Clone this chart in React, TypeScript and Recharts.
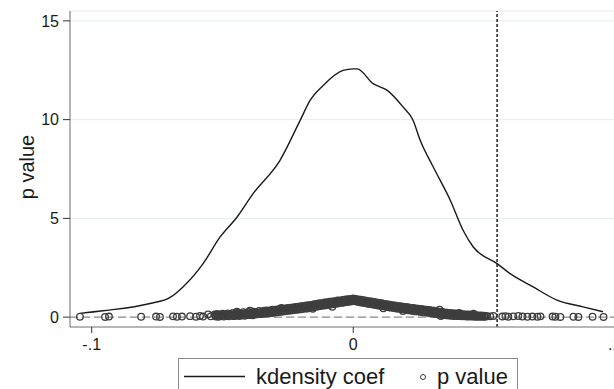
import React from 'react';
import {
  ComposedChart,
  Line,
  Scatter,
  XAxis,
  YAxis,
  CartesianGrid,
  ReferenceLine,
  Legend,
} from 'recharts';

// Kernel density of the coefficients (x = coef, y = density)
const densityCoef = [
  -0.1045, -0.0957, -0.0777, -0.07, -0.0651, -0.0574, -0.0509, -0.0444, -0.0383, -0.028,
  -0.0203, -0.0165, -0.0115, -0.0039, 0.0, 0.0015, 0.0076, 0.013, 0.0191, 0.0229,
  0.0256, 0.0306, 0.0371, 0.042, 0.0459, 0.055, 0.06, 0.0688, 0.0779, 0.0879, 0.0955,
];
const densityValue = [
  0.19, 0.32, 0.69, 1.0, 1.53, 2.71, 4.06, 5.07, 6.25, 7.94,
  9.96, 10.97, 11.73, 12.49, 12.57, 12.57, 11.82, 11.48, 10.63, 9.96,
  8.95, 7.6, 5.92, 4.4, 3.55, 2.71, 2.2, 1.53, 0.86, 0.52, 0.27,
];

// p values of individual estimates: [coef, p]
const pvalueLeftTail: [number, number][] = [
  [-0.1045, 0.02], [-0.0949, 0.01], [-0.0934, 0.03], [-0.0811, 0.02], [-0.0754, 0.03],
  [-0.0739, 0.01], [-0.0689, 0.04], [-0.0674, 0.02], [-0.0655, 0.03], [-0.0624, 0.05],
  [-0.0601, 0.02], [-0.0586, 0.06], [-0.0574, 0.03], [-0.0555, 0.14], [-0.0545, 0.04],
];
const pvalueRightTail: [number, number][] = [
  [0.0524, 0.04], [0.0536, 0.06], [0.057, 0.03], [0.0582, 0.05], [0.0593, 0.02],
  [0.0612, 0.04], [0.0631, 0.06], [0.0647, 0.03], [0.0666, 0.02], [0.0685, 0.03],
  [0.0704, 0.02], [0.0716, 0.04], [0.0762, 0.03], [0.0773, 0.02], [0.0792, 0.01],
  [0.0842, 0.02], [0.0861, 0.01], [0.0915, 0.02], [0.0957, 0.01],
];
const pvalueBand: [number, number][] = [
  [-0.053, 0.13], [-0.0525, 0.03], [-0.052, 0.16], [-0.0515, 0.02], [-0.051, 0.12], [-0.0505, 0.05],
  [-0.05, 0.17], [-0.0495, 0.03], [-0.049, 0.14], [-0.0485, 0.06], [-0.048, 0.19], [-0.0475, 0.04],
  [-0.047, 0.15], [-0.0465, 0.07], [-0.046, 0.21], [-0.0455, 0.05], [-0.045, 0.17], [-0.0445, 0.08],
  [-0.044, 0.22], [-0.0435, 0.06], [-0.043, 0.18], [-0.0425, 0.09], [-0.042, 0.25], [-0.0415, 0.07],
  [-0.041, 0.21], [-0.0405, 0.1], [-0.04, 0.26], [-0.0395, 0.11], [-0.039, 0.23], [-0.0385, 0.09],
  [-0.038, 0.28], [-0.0375, 0.13], [-0.037, 0.25], [-0.0365, 0.14], [-0.036, 0.31], [-0.0355, 0.15],
  [-0.035, 0.28], [-0.0345, 0.17], [-0.034, 0.32], [-0.0335, 0.18], [-0.033, 0.34], [-0.0325, 0.19],
  [-0.032, 0.33], [-0.0315, 0.21], [-0.031, 0.37], [-0.0305, 0.22], [-0.03, 0.38], [-0.0295, 0.24],
  [-0.029, 0.39], [-0.0285, 0.26], [-0.028, 0.42], [-0.0275, 0.27], [-0.027, 0.43], [-0.0265, 0.29],
  [-0.026, 0.44], [-0.0255, 0.31], [-0.025, 0.47], [-0.0245, 0.32], [-0.024, 0.48], [-0.0235, 0.34],
  [-0.023, 0.49], [-0.0225, 0.36], [-0.022, 0.52], [-0.0215, 0.37], [-0.021, 0.53], [-0.0205, 0.39],
  [-0.02, 0.55], [-0.0195, 0.41], [-0.019, 0.57], [-0.0185, 0.43], [-0.018, 0.59], [-0.0175, 0.44],
  [-0.017, 0.61], [-0.0165, 0.47], [-0.016, 0.62], [-0.0155, 0.49], [-0.015, 0.65], [-0.0145, 0.52],
  [-0.014, 0.67], [-0.0135, 0.54], [-0.013, 0.7], [-0.0125, 0.56], [-0.012, 0.71], [-0.0115, 0.58],
  [-0.011, 0.74], [-0.0105, 0.6], [-0.01, 0.75], [-0.0095, 0.62], [-0.009, 0.78], [-0.0085, 0.64],
  [-0.008, 0.79], [-0.0075, 0.66], [-0.007, 0.81], [-0.0065, 0.68], [-0.006, 0.84], [-0.0055, 0.7],
  [-0.005, 0.85], [-0.0045, 0.72], [-0.004, 0.87], [-0.0035, 0.74], [-0.003, 0.89], [-0.0025, 0.76],
  [-0.002, 0.91], [-0.0015, 0.78], [-0.001, 0.92], [-0.0005, 0.8], [0.0, 0.94], [0.0005, 0.81],
  [0.001, 0.92], [0.0015, 0.78], [0.002, 0.9], [0.0025, 0.75], [0.003, 0.88], [0.0035, 0.73],
  [0.004, 0.86], [0.0045, 0.71], [0.005, 0.83], [0.0055, 0.68], [0.006, 0.81], [0.0065, 0.66],
  [0.007, 0.79], [0.0075, 0.64], [0.008, 0.77], [0.0085, 0.61], [0.009, 0.74], [0.0095, 0.59],
  [0.01, 0.72], [0.0105, 0.57], [0.011, 0.7], [0.0115, 0.55], [0.012, 0.67], [0.0125, 0.52],
  [0.013, 0.65], [0.0135, 0.5], [0.014, 0.63], [0.0145, 0.48], [0.015, 0.61], [0.0155, 0.46],
  [0.016, 0.59], [0.0165, 0.44], [0.017, 0.57], [0.0175, 0.42], [0.018, 0.55], [0.0185, 0.4],
  [0.019, 0.53], [0.0195, 0.38], [0.02, 0.51], [0.0205, 0.36], [0.021, 0.5], [0.0215, 0.34],
  [0.022, 0.47], [0.0225, 0.32], [0.023, 0.46], [0.0235, 0.3], [0.024, 0.44], [0.0245, 0.29],
  [0.025, 0.43], [0.0255, 0.27], [0.026, 0.41], [0.0265, 0.25], [0.027, 0.39], [0.0275, 0.24],
  [0.028, 0.38], [0.0285, 0.22], [0.029, 0.36], [0.0295, 0.2], [0.03, 0.34], [0.0305, 0.18],
  [0.031, 0.32], [0.0315, 0.16], [0.032, 0.3], [0.0325, 0.14], [0.033, 0.28], [0.0335, 0.12],
  [0.034, 0.26], [0.0345, 0.11], [0.035, 0.24], [0.0355, 0.09], [0.036, 0.23], [0.0365, 0.08],
  [0.037, 0.21], [0.0375, 0.07], [0.038, 0.2], [0.0385, 0.06], [0.039, 0.18], [0.0395, 0.05],
  [0.04, 0.17], [0.0405, 0.05], [0.041, 0.16], [0.0415, 0.04], [0.042, 0.15], [0.0425, 0.04],
  [0.043, 0.14], [0.0435, 0.03], [0.044, 0.13], [0.0445, 0.03], [0.045, 0.12], [0.0455, 0.03],
  [0.046, 0.11], [0.0465, 0.02], [0.047, 0.1], [0.0475, 0.02], [0.048, 0.09], [0.0485, 0.02],
  [0.049, 0.08], [0.0495, 0.02], [0.05, 0.07], [0.0505, 0.02], [0.051, 0.06],
];
const pvalueBandMiddle: [number, number][] = [
  [-0.05275, 0.08], [-0.05175, 0.09], [-0.05075, 0.07], [-0.04975, 0.1], [-0.04875, 0.11],
  [-0.04775, 0.1], [-0.04675, 0.13], [-0.04575, 0.12], [-0.04475, 0.14], [-0.04375, 0.13],
  [-0.04275, 0.15], [-0.04175, 0.17], [-0.04075, 0.16], [-0.03975, 0.18], [-0.03875, 0.17],
  [-0.03775, 0.21], [-0.03675, 0.2], [-0.03575, 0.23], [-0.03475, 0.22], [-0.03375, 0.25],
  [-0.03275, 0.27], [-0.03175, 0.26], [-0.03075, 0.3], [-0.02975, 0.31], [-0.02875, 0.33],
  [-0.02775, 0.34], [-0.02675, 0.36], [-0.02575, 0.38], [-0.02475, 0.39], [-0.02375, 0.41],
  [-0.02275, 0.43], [-0.02175, 0.44], [-0.02075, 0.46], [-0.01975, 0.48], [-0.01875, 0.5],
  [-0.01775, 0.52], [-0.01675, 0.54], [-0.01575, 0.56], [-0.01475, 0.58], [-0.01375, 0.61],
  [-0.01275, 0.63], [-0.01175, 0.65], [-0.01075, 0.67], [-0.00975, 0.68], [-0.00875, 0.71],
  [-0.00775, 0.72], [-0.00675, 0.75], [-0.00575, 0.77], [-0.00475, 0.79], [-0.00375, 0.8],
  [-0.00275, 0.83], [-0.00175, 0.84], [-0.00075, 0.86], [0.00025, 0.87], [0.00125, 0.85],
  [0.00225, 0.83], [0.00325, 0.8], [0.00425, 0.78], [0.00525, 0.76], [0.00625, 0.73],
  [0.00725, 0.71], [0.00825, 0.69], [0.00925, 0.66], [0.01025, 0.65], [0.01125, 0.62],
  [0.01225, 0.6], [0.01325, 0.57], [0.01425, 0.56], [0.01525, 0.53], [0.01625, 0.52],
  [0.01725, 0.49], [0.01825, 0.47], [0.01925, 0.46], [0.02025, 0.43], [0.02125, 0.42],
  [0.02225, 0.4], [0.02325, 0.38], [0.02425, 0.37], [0.02525, 0.35], [0.02625, 0.33],
  [0.02725, 0.32], [0.02825, 0.3], [0.02925, 0.28], [0.03025, 0.26], [0.03125, 0.24],
  [0.03225, 0.22], [0.03325, 0.2], [0.03425, 0.19], [0.03525, 0.17], [0.03625, 0.15],
  [0.03725, 0.14], [0.03825, 0.13], [0.03925, 0.12], [0.04025, 0.11], [0.04125, 0.1],
  [0.04225, 0.09], [0.04325, 0.08], [0.04425, 0.08], [0.04525, 0.07], [0.04625, 0.06],
  [0.04725, 0.06], [0.04825, 0.05], [0.04925, 0.05], [0.05025, 0.04],
];
const pvalueStray: [number, number][] = [
  [-0.0445, 0.27], [-0.0395, 0.33], [-0.0275, 0.47], [-0.0155, 0.42], [-0.008, 0.52],
  [0.0115, 0.45], [0.019, 0.31], [0.033, 0.38], [0.0335, 0.06], [0.0405, 0.21], [0.046, 0.17],
];

const xTicks = [-0.1, 0, 0.1];
const xTickLabels = ['-.1', '0', '.1'];
const yTicks = [0, 5, 10, 15];
const cutoffCoef = 0.055;
const seriesNames = ['kdensity coef', 'p value'];

const densityData = densityCoef.map((x, i) => ({ x, y: densityValue[i] }));
const pvalueData = [
  ...pvalueLeftTail,
  ...pvalueBand,
  ...pvalueBandMiddle,
  ...pvalueRightTail,
  ...pvalueStray,
].map(([x, y]) => ({ x, y }));

const FONT = '"Liberation Sans", Arial, Helvetica, sans-serif';
const TEXT = '#1a1a1a';

const HollowCircle = (props: any) => {
  const { cx, cy } = props;
  if (cx == null || cy == null) return null;
  return <circle cx={cx} cy={cy} r={3.3} fill="none" stroke="#3e3e3e" strokeWidth={1.3} />;
};

const renderLegend = (props: any) => {
  const payload = props.payload || [];
  const lineName = payload.find((p: any) => p.type === 'line')?.value ?? seriesNames[0];
  const dotName = payload.find((p: any) => p.type !== 'line')?.value ?? seriesNames[1];
  return (
    <svg width={340} height={40} style={{ display: 'block', fontFamily: FONT }}>
      <rect x={0.5} y={0.5} width={339} height={45} fill="#fff" stroke="#8a8a8a" strokeWidth={1} />
      <line x1={6} x2={67} y1={18.5} y2={18.5} stroke="#1a1a1a" strokeWidth={1.4} />
      <text x={78} y={26} fontSize={22} fill={TEXT}>{lineName}</text>
      <circle cx={245} cy={19} r={2.5} fill="none" stroke="#3c3c3c" strokeWidth={1} />
      <text x={259} y={26} fontSize={22} fill={TEXT}>{dotName}</text>
    </svg>
  );
};

const YLabel = (props: any) => {
  const vb = props.viewBox || { x: 0, y: 11, width: 70, height: 316 };
  const cx = vb.x + 27;
  const cy = vb.y + vb.height / 2 - 2;
  return (
    <text
      x={cx}
      y={cy}
      transform={`rotate(-90, ${cx}, ${cy})`}
      textAnchor="middle"
      dominantBaseline="central"
      fontSize={20}
      fill={TEXT}
      fontFamily={FONT}
    >
      p value
    </text>
  );
};

export default function App() {
  return (
    <div
      style={{
        position: 'absolute',
        left: 0,
        top: 0,
        width: 614,
        height: 389,
        overflow: 'hidden',
        background: '#fff',
      }}
    >
      <ComposedChart
        width={640}
        height={389}
        margin={{ top: 11, right: 20, bottom: 32, left: 0 }}
        style={{ fontFamily: FONT }}
      >
        <CartesianGrid vertical={false} stroke="#e4eded" strokeWidth={1} />
        <XAxis
          type="number"
          dataKey="x"
          domain={[-0.1083, 0.102]}
          allowDataOverflow
          ticks={xTicks}
          interval={0}
          tickFormatter={(v: number) => xTickLabels[xTicks.indexOf(v)] ?? String(v)}
          height={30}
          tickSize={6}
          tickMargin={6}
          stroke="#777"
          axisLine={{ stroke: '#7a7a7a' }}
          tickLine={{ stroke: '#333' }}
          tick={{ fill: TEXT, fontSize: 16 }}
        />
        <YAxis
          type="number"
          dataKey="y"
          domain={[-0.5, 15.5]}
          allowDataOverflow
          ticks={yTicks}
          interval={0}
          width={70}
          tickSize={7}
          tickMargin={4}
          axisLine={{ stroke: '#6a6a6a' }}
          tickLine={{ stroke: '#333' }}
          tick={{ fill: TEXT, fontSize: 16 }}
          label={<YLabel />}
        />
        <ReferenceLine y={0} stroke="#8f8f8f" strokeDasharray="8 4" strokeWidth={1.2} />
        <Scatter
          name={seriesNames[1]}
          data={pvalueData}
          dataKey="y"
          shape={<HollowCircle />}
          legendType="circle"
          isAnimationActive={false}
        />
        <Line
          name={seriesNames[0]}
          data={densityData}
          dataKey="y"
          type="monotone"
          dot={false}
          stroke="#1a1a1a"
          strokeWidth={1.4}
          legendType="line"
          isAnimationActive={false}
        />
        <ReferenceLine x={cutoffCoef} stroke="#111" strokeDasharray="3 2" strokeWidth={1.4} />
        <Legend
          layout="horizontal"
          verticalAlign="middle"
          align="center"
          wrapperStyle={{ left: 178, top: 358, width: 340, height: 40 }}
          content={renderLegend}
        />
      </ComposedChart>
    </div>
  );
}
